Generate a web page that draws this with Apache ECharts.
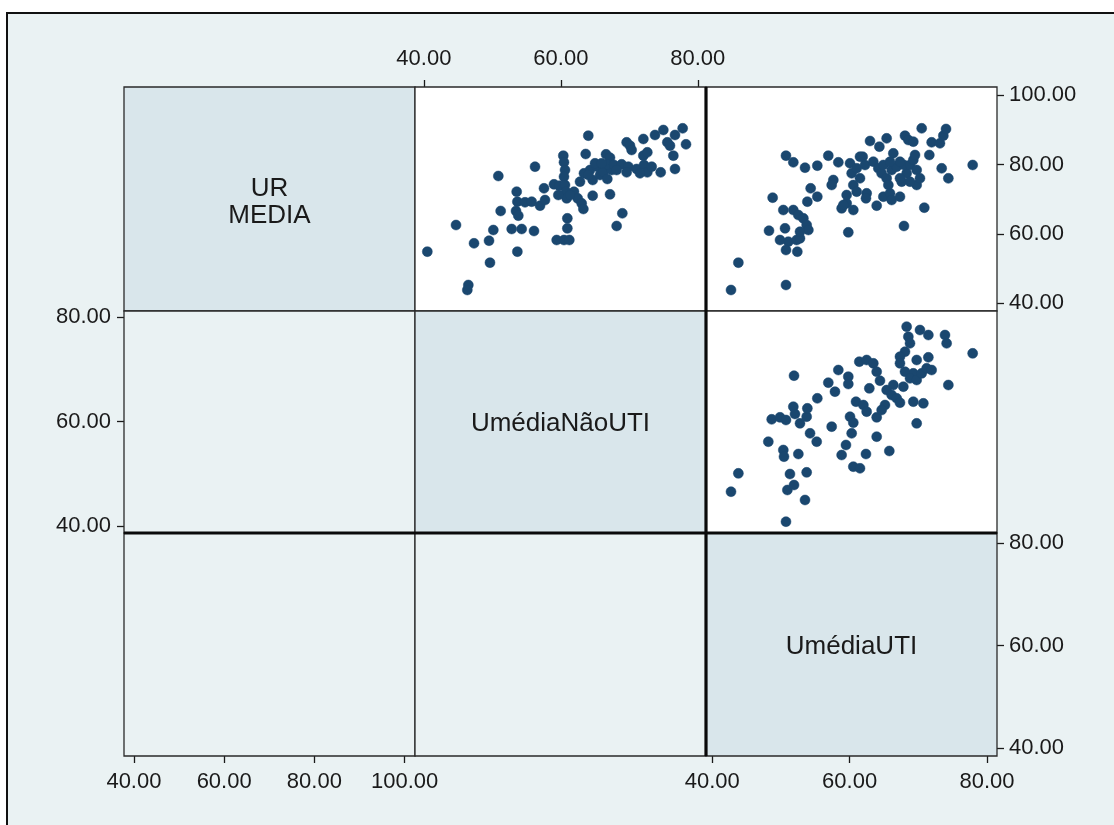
<!DOCTYPE html>
<html>
<head>
<meta charset="utf-8">
<title>Matriz de dispersão</title>
<script src="https://cdn.jsdelivr.net/npm/echarts@6/dist/echarts.min.js"></script>
<style>
  html, body { margin: 0; padding: 0; background: #ffffff; }
  #chart { width: 1114px; height: 825px; }
</style>
</head>
<body>
<div id="chart"></div>
<script>
// Variable names shown on the diagonal
const varNames = ['UR\nMEDIA', 'UmédiaNãoUTI', 'UmédiaUTI'];

// Tick values for each variable
const urTicks = [40, 60, 80, 100];
const naoUtiTicks = [40, 60, 80];
const utiTicks = [40, 60, 80];

// Scale extents of each variable
const urRange = [37.8, 102.3];
const naoUtiRange = [38.7, 81.2];
const utiRangeX = [39.1, 81.45];
const utiRangeY = [38.45, 81.95];

// Row 1, column 2: [UmédiaNãoUTI, UR MEDIA]
const urVsNaoUti = [
  [40.50,54.89],[44.69,62.56],[46.49,45.29],[46.34,43.85],[47.32,57.29],[49.51,58.05],
  [49.65,51.72],[50.14,61.12],[50.87,76.67],[51.21,66.60],[53.65,54.89],[52.82,61.41],
  [54.28,61.41],[53.55,72.16],[53.65,69.28],[53.45,66.60],[53.79,65.25],[54.77,69.09],
  [55.74,69.28],[56.08,60.83],[56.23,79.36],[56.96,68.13],[57.54,73.12],[57.69,69.76],
  [59.00,74.27],[59.78,73.89],[59.39,58.24],[60.46,58.24],[61.24,58.24],[60.95,64.48],
  [60.95,61.60],[60.36,82.53],[60.46,80.61],[60.61,78.40],[60.46,76.48],[60.61,74.08],
  [60.75,72.16],[60.85,70.24],[61.92,72.16],[62.46,70.24],[63.04,68.80],[63.29,67.17],
  [63.63,83.01],[64.01,88.29],[63.38,77.44],[64.26,78.40],[64.65,75.52],[65.33,79.36],
  [65.72,76.96],[66.21,77.92],[66.79,75.81],[67.42,78.40],[64.65,71.01],[66.60,82.91],
  [67.18,81.95],[66.79,80.03],[67.76,79.84],[67.18,71.39],[68.98,65.93],[68.15,62.28],
  [69.61,86.37],[70.10,85.41],[70.34,84.16],[68.88,80.03],[69.86,79.36],[71.07,78.69],
  [72.15,79.84],[72.63,77.73],[73.27,79.36],[72.05,87.33],[72.05,82.53],[72.63,83.49],
  [73.75,88.48],[74.97,89.92],[74.58,77.73],[75.55,86.37],[75.94,85.41],[76.67,88.48],
  [76.43,82.53],[76.67,78.69],[77.79,90.40],[78.28,85.79],[64.99,80.32],[65.96,80.32],
  [68.15,78.40],[69.61,77.73],[71.56,77.44],[62.80,75.04],[64.02,76.96],[59.63,71.20],
  [61.34,71.20]
];

// Row 1, column 3: [UmédiaUTI, UR MEDIA]
const urVsUti = [
  [42.74,43.85],[43.81,51.72],[50.74,45.29],[48.27,60.93],[48.80,70.43],[50.60,61.60],
  [50.35,66.88],[49.87,58.24],[51.08,57.76],[52.29,58.24],[52.78,58.72],[50.74,55.36],
  [52.39,54.88],[51.81,66.88],[52.54,65.44],[53.27,64.48],[53.75,62.56],[54.00,61.12],
  [52.78,60.64],[53.85,69.28],[54.33,73.12],[55.30,70.72],[50.74,82.53],[51.81,80.61],
  [53.51,79.07],[55.30,79.65],[56.90,82.53],[58.36,80.61],[57.63,75.52],[57.39,74.08],
  [59.81,60.45],[58.84,67.36],[59.57,68.80],[60.54,66.88],[60.06,80.32],[60.30,77.44],
  [61.03,78.88],[61.90,82.24],[62.24,79.84],[61.51,76.00],[60.54,74.08],[61.03,72.16],
  [62.48,71.68],[62.38,70.24],[62.97,86.75],[63.94,68.13],[64.33,85.12],[65.39,87.52],
  [66.36,83.20],[63.45,80.80],[64.18,78.88],[64.66,77.44],[65.39,76.00],[64.91,79.84],
  [66.12,78.40],[66.85,79.36],[64.91,70.72],[65.88,71.68],[66.12,69.76],[67.33,70.72],
  [67.58,75.04],[68.30,77.44],[67.91,79.84],[68.79,79.84],[69.27,81.28],[69.76,78.40],
  [69.52,82.72],[68.06,88.29],[68.55,87.04],[69.27,86.56],[67.91,62.28],[70.49,90.40],
  [69.76,74.08],[70.24,76.00],[70.87,67.55],[71.60,82.72],[71.94,86.37],[73.15,86.08],
  [73.64,88.29],[74.03,90.21],[73.40,78.88],[74.37,76.00],[77.91,79.84],[67.33,80.80],
  [65.88,80.80],[67.33,76.00],[61.51,82.24],[68.79,75.04],[65.64,74.08],[59.57,71.20],
  [59.09,68.32]
];

// Row 2, column 3: [UmédiaUTI, UmédiaNãoUTI]
const naoUtiVsUti = [
  [42.74,46.61],[43.81,50.12],[50.74,40.87],[48.17,56.18],[51.91,68.82],[48.66,60.46],
  [49.87,60.84],[50.74,60.33],[50.35,54.59],[50.45,53.31],[52.54,53.82],[51.32,49.99],
  [50.94,46.93],[51.91,47.89],[53.51,45.02],[53.75,50.31],[51.81,62.88],[52.05,61.48],
  [52.78,59.69],[53.75,60.97],[53.85,62.56],[54.24,57.78],[55.21,56.18],[55.30,64.48],
  [56.90,67.48],[57.87,65.76],[57.39,59.06],[58.36,69.90],[59.81,68.63],[59.81,67.22],
  [58.84,53.63],[59.47,55.55],[60.30,57.78],[60.06,60.97],[60.54,59.82],[60.93,63.84],
  [62.00,63.20],[62.48,61.93],[60.54,51.40],[61.51,51.08],[61.41,71.50],[62.48,71.82],
  [63.45,71.18],[63.94,69.58],[64.42,67.86],[62.87,66.39],[62.38,53.82],[63.94,57.14],
  [63.94,60.84],[65.78,54.40],[65.39,66.07],[66.12,65.12],[66.85,64.48],[67.33,63.65],
  [66.36,67.03],[65.15,63.20],[64.66,62.25],[68.30,78.20],[68.55,76.28],[68.79,75.01],
  [68.06,73.41],[67.33,72.46],[69.76,59.69],[69.27,69.26],[68.06,69.58],[68.79,68.31],
  [69.76,67.99],[70.49,69.26],[71.21,70.22],[71.94,69.90],[70.73,63.52],[69.27,63.84],
  [70.24,77.56],[71.46,76.60],[71.46,72.33],[73.88,76.60],[74.12,75.01],[74.37,67.03],
  [77.91,73.09],[67.33,71.18],[67.82,66.71],[69.76,71.82]
];

// ---- layout of the 3 x 3 matrix ----
const colX = [124, 415, 706, 997];
const rowY = [87, 311, 533, 756];
const cell = (r, c) => ({
  left: colX[c], top: rowY[r],
  width: colX[c + 1] - colX[c], height: rowY[r + 1] - rowY[r]
});

const FONT = '"Liberation Sans", Arial, sans-serif';
const BG = '#eaf2f3';
const DIAG = '#d9e6eb';
const MARK = '#1a476f';
const fmt = v => v.toFixed(2);

function tickAxis(position, range, ticks, gridIndex, margin) {
  return {
    type: 'value', gridIndex, position,
    min: range[0], max: range[1],
    axisLine: { show: false },
    splitLine: { show: false },
    axisTick: { show: true, length: 7, inside: false, customValues: ticks,
                lineStyle: { color: '#1a1a1a', width: 1.3 } },
    axisLabel: { show: true, customValues: ticks, formatter: fmt, margin,
                 color: '#1a1a1a', fontSize: 22, fontFamily: FONT }
  };
}
function hiddenAxis(range, gridIndex) {
  return { type: 'value', gridIndex, min: range[0], max: range[1], show: false,
           splitLine: { show: false } };
}

const grids = [
  cell(0, 1), // 0: UR vs NãoUTI
  cell(0, 2), // 1: UR vs UTI
  cell(1, 2), // 2: NãoUTI vs UTI
  cell(2, 0), // 3: bottom axis of UR
  cell(1, 0), // 4: left axis of NãoUTI
  cell(2, 2)  // 5: axes of UTI
].map(g => Object.assign({ containLabel: false }, g));

const xAxes = [
  tickAxis('top', naoUtiRange, naoUtiTicks, 0, 17),
  hiddenAxis(utiRangeX, 1),
  hiddenAxis(utiRangeX, 2),
  tickAxis('bottom', urRange, urTicks, 3, 15),
  hiddenAxis([0, 1], 4),
  tickAxis('bottom', utiRangeX, utiTicks, 5, 15)
];
const yAxes = [
  hiddenAxis(urRange, 0),
  tickAxis('right', urRange, urTicks, 1, 12),
  hiddenAxis(naoUtiRange, 2),
  hiddenAxis([0, 1], 3),
  tickAxis('left', naoUtiRange, naoUtiTicks, 4, 13),
  tickAxis('right', utiRangeY, utiTicks, 5, 12)
];

function scatter(data, idx) {
  return {
    type: 'scatter', xAxisIndex: idx, yAxisIndex: idx, data,
    symbol: 'circle', symbolSize: 10, z: 5,
    itemStyle: { color: MARK, opacity: 1, borderColor: MARK, borderWidth: 0.5 },
    silent: true, animation: false
  };
}

// panel backgrounds and borders
const panels = [];
for (let r = 0; r < 3; r++) {
  for (let c = 0; c < 3; c++) {
    const g = cell(r, c);
    const fill = r === c ? DIAG : (c > r ? '#ffffff' : BG);
    panels.push({
      type: 'rect', z: 1,
      shape: { x: g.left, y: g.top, width: g.width, height: g.height },
      style: { fill, stroke: '#2a2a2a', lineWidth: 1.3 }
    });
  }
}

// diagonal variable names
const labels = varNames.map((name, i) => {
  const g = cell(i, i);
  return {
    type: 'text', z: 6,
    x: g.left + g.width / 2, y: g.top + g.height / 2 + (i === 0 ? 3 : 2),
    style: { text: name, fill: '#1a1a1a', font: '26px ' + FONT,
             align: 'center', verticalAlign: 'middle', lineHeight: 27 }
  };
});

const heavy = { stroke: '#0a0a0a', lineWidth: 3.2 };

const option = {
  animation: false,
  backgroundColor: '#ffffff',
  grid: grids,
  xAxis: xAxes,
  yAxis: yAxes,
  graphic: [
    { type: 'rect', z: 0, shape: { x: 7, y: 13, width: 1130, height: 840 },
      style: { fill: BG, stroke: '#111111', lineWidth: 2 } },
    ...panels,
    { type: 'line', z: 8, shape: { x1: colX[2], y1: rowY[0], x2: colX[2], y2: rowY[3] }, style: heavy },
    { type: 'line', z: 8, shape: { x1: colX[0], y1: rowY[2], x2: colX[3], y2: rowY[2] }, style: heavy },
    ...labels
  ],
  series: [
    scatter(urVsNaoUti, 0),
    scatter(urVsUti, 1),
    scatter(naoUtiVsUti, 2)
  ]
};

const chart = echarts.init(document.getElementById('chart'), null, { renderer: 'canvas' });
chart.setOption(option);
</script>
</body>
</html>
